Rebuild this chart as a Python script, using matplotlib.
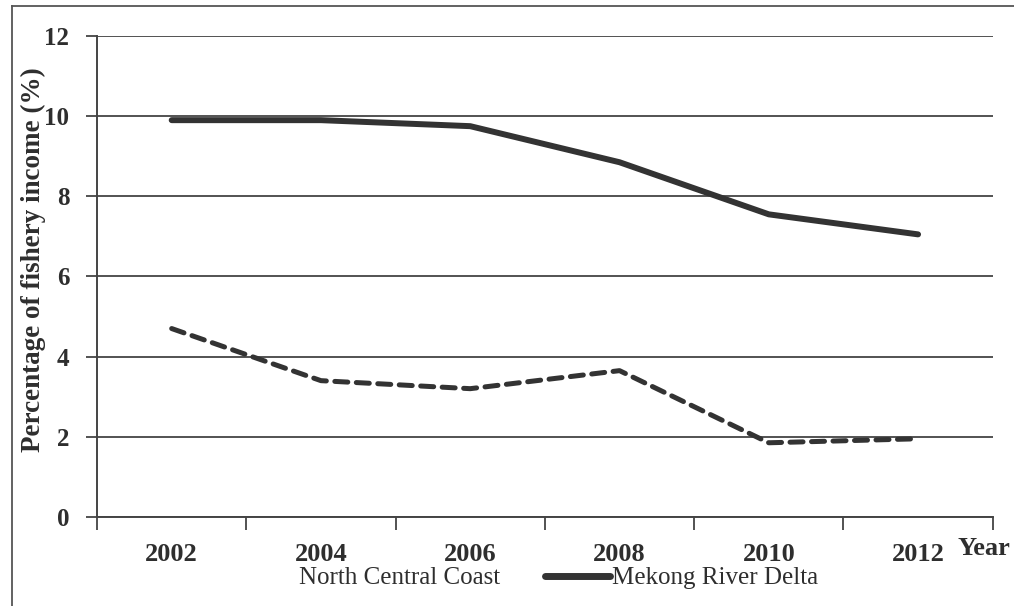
"""
Share of fishery income by region, 2002-2012.
"""

import matplotlib
matplotlib.use("Agg")
import matplotlib.pyplot as plt
from matplotlib.lines import Line2D

years = ["2002", "2004", "2006", "2008", "2010", "2012"]
mekong_river_delta = [9.9, 9.9, 9.75, 8.85, 7.55, 7.05]
north_central_coast = [4.7, 3.4, 3.2, 3.65, 1.85, 1.95]

LINE_COLOR = "#333333"
GRID_COLOR = "#444444"
TEXT_COLOR = "#2e2e2e"
SERIF = "Liberation Serif"

fig = plt.figure(figsize=(10.14, 6.06), dpi=100)
ax = fig.add_axes([0.0957, 0.147, 0.8833, 0.7936])

x = list(range(len(years)))
ax.plot(x, mekong_river_delta, color=LINE_COLOR, lw=4.3,
        solid_capstyle="round", solid_joinstyle="round", zorder=3)
ax.plot(x, north_central_coast, color=LINE_COLOR, lw=3.6,
        linestyle=(0, (2.6, 1.7)), dash_capstyle="round", zorder=3)

ax.set_xlim(-0.5, len(years) - 0.5)
ax.set_ylim(0, 12)
ax.set_yticks(range(0, 13, 2))
ax.yaxis.grid(True, color=GRID_COLOR, lw=1.3)
ax.set_axisbelow(True)

# category axis: ticks on boundaries, labels in the middle
ax.set_xticks([i - 0.5 for i in range(len(years) + 1)])
ax.set_xticklabels([])
ax.set_xticks(x, minor=True)
ax.set_xticklabels(years, minor=True, fontsize=19, fontweight="bold",
                   family=SERIF, color=TEXT_COLOR)
ax.tick_params(axis="x", which="major", direction="out", length=9,
               width=1.3, color=GRID_COLOR)
ax.tick_params(axis="x", which="minor", length=0, pad=19)
ax.tick_params(axis="y", direction="out", length=8, width=1.3,
               color=GRID_COLOR, pad=12)
for lab in ax.get_yticklabels():
    lab.set_fontsize(18)
    lab.set_fontweight("bold")
    lab.set_family(SERIF)
    lab.set_color(TEXT_COLOR)

for side in ("top", "right"):
    ax.spines[side].set_visible(False)
for side in ("left", "bottom"):
    ax.spines[side].set_color(GRID_COLOR)
    ax.spines[side].set_linewidth(1.4)

ax.set_ylabel("Percentage of fishery income (%)", fontsize=19.5,
              fontweight="bold", family=SERIF, color=TEXT_COLOR)
ax.yaxis.set_label_coords(-0.057, 0.534)

fig.text(0.970, 0.0957, "Year", fontsize=19, fontweight="bold", family=SERIF,
         color=TEXT_COLOR, ha="center", va="center")

# legend: the dashed key is missing in the original, only its text shows
handles = [
    Line2D([], [], linestyle="none"),
    Line2D([], [], color=LINE_COLOR, lw=5, solid_capstyle="round"),
]
leg = fig.legend(handles, ["North Central Coast", "Mekong River Delta"],
                 loc="center", bbox_to_anchor=(0.518, 0.046), ncol=2,
                 frameon=False, handlelength=2.6, handletextpad=0.05,
                 columnspacing=1.8, prop={"family": SERIF, "size": 18})
for t in leg.get_texts():
    t.set_color(TEXT_COLOR)

# outer frame (top and left edges only are visible)
fig.add_artist(Line2D([0.012, 1.0], [0.99, 0.99], color="#555555", lw=1.3))
fig.add_artist(Line2D([0.012, 0.012], [0.0, 0.99], color="#555555", lw=1.3))

fig.savefig("out.png", dpi=100)
